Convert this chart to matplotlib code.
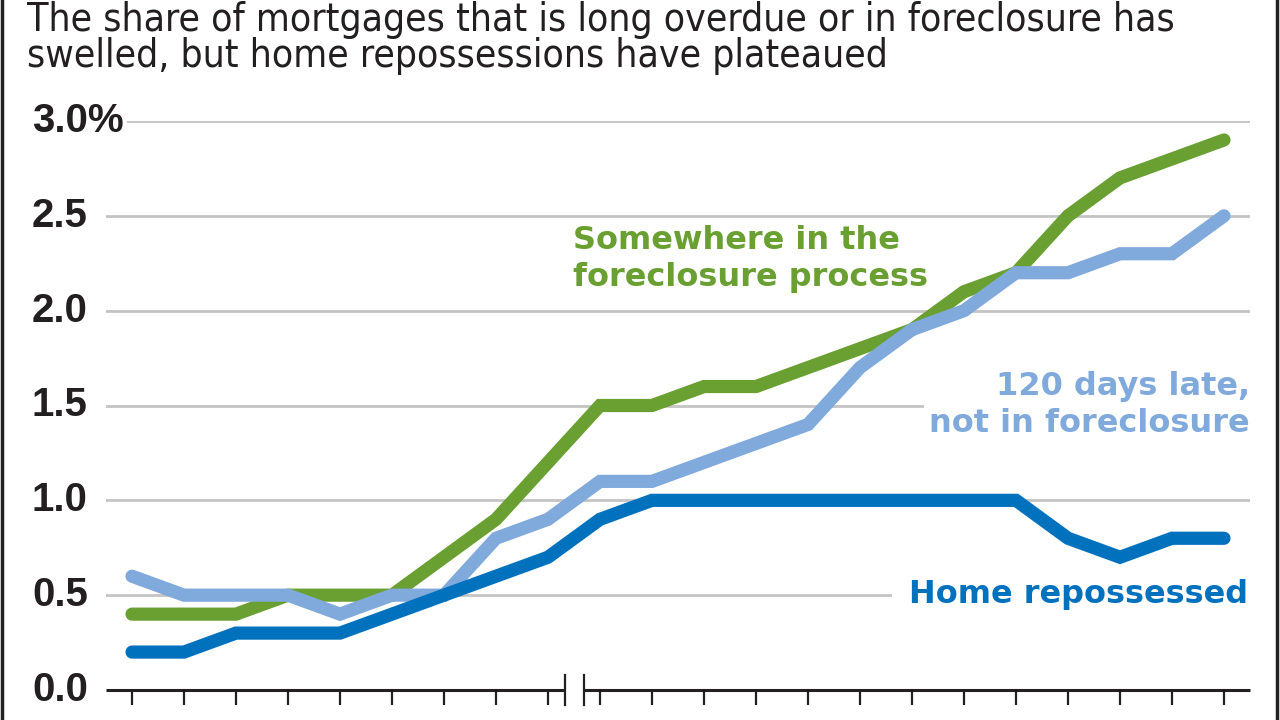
import numpy as np
import matplotlib.pyplot as plt
from matplotlib import transforms

# values, % of mortgages
periods = list(range(22))
foreclosure = [0.4, 0.4, 0.4, 0.5, 0.5, 0.5, 0.7, 0.9, 1.2, 1.5, 1.5,
               1.6, 1.6, 1.7, 1.8, 1.9, 2.1, 2.2, 2.5, 2.7, 2.8, 2.9]
late_120 = [0.6, 0.5, 0.5, 0.5, 0.4, 0.5, 0.5, 0.8, 0.9, 1.1, 1.1,
            1.2, 1.3, 1.4, 1.7, 1.9, 2.0, 2.2, 2.2, 2.3, 2.3, 2.5]
repossessed = [0.2, 0.2, 0.3, 0.3, 0.3, 0.4, 0.5, 0.6, 0.7, 0.9, 1.0,
               1.0, 1.0, 1.0, 1.0, 1.0, 1.0, 1.0, 0.8, 0.7, 0.8, 0.8]
yticks = [0.0, 0.5, 1.0, 1.5, 2.0, 2.5, 3.0]
ytick_labels = ["0.0", "0.5", "1.0", "1.5", "2.0", "2.5", "3.0%"]

GREEN = "#6aa032"
LIGHT = "#80a9dc"
DARK = "#0071bd"
GRID = "#c4c4c4"
INK = "#231f20"

fig = plt.figure(figsize=(12.8, 7.2), dpi=100)
ax = fig.add_axes([106 / 1280, 30 / 720, 1144 / 1280, 569 / 720])
ax.set_xlim(-0.5, 21.5)
ax.set_ylim(0, 3.0)
for s in ax.spines.values():
    s.set_visible(False)

# gridlines
for y in yticks[1:]:
    ax.axhline(y, color=GRID, lw=2, zorder=1)

# y labels on the left, left aligned
trans = transforms.blended_transform_factory(fig.transFigure, ax.transData)
for y, lab in zip(yticks, ytick_labels):
    ax.text(32 / 1280, y, lab, transform=trans, ha="left", va="center",
            fontsize=29, fontweight="bold", family="Liberation Sans", color=INK,
            bbox=dict(facecolor="white", edgecolor="none", pad=2), zorder=2)

# x axis with break
ax.set_yticks([])
ax.set_xticks(periods)
ax.set_xticklabels([])
ax.tick_params(axis="x", direction="out", length=11, width=1.6, color=INK)
brk_l, brk_r = 8.33, 8.69
ax.plot([-0.5, brk_l], [0, 0], color=INK, lw=2.2, clip_on=False, zorder=2,
        solid_capstyle="butt")
ax.plot([brk_r, 21.5], [0, 0], color=INK, lw=2.2, clip_on=False, zorder=2,
        solid_capstyle="butt")
for bx in (brk_l, brk_r):
    ax.plot([bx, bx], [0.08, -0.08], color=INK, lw=1.6, clip_on=False, zorder=2)

# series
for vals, col in ((foreclosure, GREEN), (late_120, LIGHT), (repossessed, DARK)):
    ax.plot(periods, vals, color=col, lw=9.5, solid_capstyle="round",
            solid_joinstyle="miter", zorder=4, clip_on=False)

# direct labels
lab_kw = dict(fontsize=23, fontweight="bold", family="DejaVu Sans", linespacing=1.25, zorder=3)
ax.text(8.48, 2.27, "Somewhere in the\nforeclosure process", color=GREEN,
        ha="left", va="center",
        bbox=dict(facecolor="white", edgecolor="none", pad=1), **lab_kw)
ax.text(21.5, 1.50, "120 days late,\nnot in foreclosure", color=LIGHT,
        ha="right", va="center",
        bbox=dict(facecolor="white", edgecolor="none", pad=4), **lab_kw)
ax.text(21.46, 0.505, "Home repossessed", color=DARK, ha="right", va="center",
        bbox=dict(facecolor="white", edgecolor="none", pad=12), **lab_kw)

# subtitle
sub_kw = dict(fontsize=28, family="DejaVu Sans", stretch="condensed", color=INK,
              ha="left", va="baseline")
fig.text(27 / 1280, 1 - 31 / 720,
         "The share of mortgages that is long overdue or in foreclosure has", **sub_kw)
fig.text(27 / 1280, 1 - 67 / 720, "swelled, but home repossessions have plateaued", **sub_kw)

# frame lines at the edges
fig.add_artist(plt.Line2D([2 / 1280, 2 / 1280], [0, 1], color=INK, lw=2.5,
                          transform=fig.transFigure))
fig.add_artist(plt.Line2D([1277 / 1280, 1277 / 1280], [0, 1], color=INK, lw=2.5,
                          transform=fig.transFigure))

fig.savefig("out.png", dpi=100)
